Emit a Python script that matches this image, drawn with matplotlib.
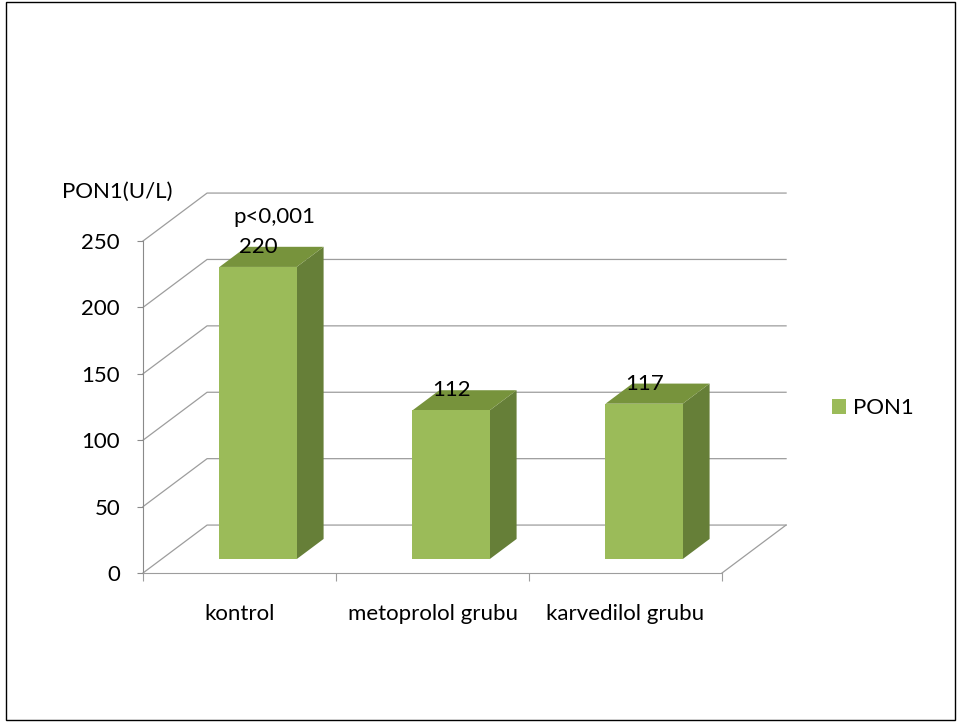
import matplotlib.pyplot as plt
from matplotlib.patches import Polygon, Rectangle, Patch

plt.rcParams['font.family'] = ['Lato', 'DejaVu Sans']

categories = ['kontrol', 'metoprolol grubu', 'karvedilol grubu']
pon1 = [220, 112, 117]
yticks = [0, 50, 100, 150, 200, 250]
series_name = 'PON1'

FRONT = '#9BBB59'
TOP = '#77933C'
SIDE = '#667F38'
GRID = '#9d9d9d'
FS = 16

# depth of the fake 3d box, in data units (x: categories, y: values)
DX, DY = 0.332, 36.1
BAR_W = 0.4
BAR_Z0, BAR_DEPTH = 0.29, 0.42

fig = plt.figure(figsize=(9.61, 7.26), dpi=100)
ax = fig.add_axes([143 / 961, 153 / 726, 579 / 961, 332 / 726])
ax.set_xlim(-0.5, 2.5)
ax.set_ylim(0, 250)

# walls / gridlines
for v in yticks:
    ax.plot([-0.5, -0.5 + DX, 2.5 + DX], [v, v + DY, v + DY],
            color=GRID, lw=0.9, clip_on=False, zorder=1)
ax.plot([2.5, 2.5 + DX], [0, DY], color=GRID, lw=0.9, clip_on=False, zorder=1)

# bars
for i, v in enumerate(pon1):
    x0 = i - BAR_W / 2 + BAR_Z0 * DX
    y0 = BAR_Z0 * DY
    bx, by = BAR_DEPTH * DX, BAR_DEPTH * DY
    ax.add_patch(Polygon([(x0 + BAR_W, y0), (x0 + BAR_W + bx, y0 + by),
                          (x0 + BAR_W + bx, y0 + by + v), (x0 + BAR_W, y0 + v)],
                         closed=True, fc=SIDE, ec='none', clip_on=False, zorder=3))
    ax.add_patch(Polygon([(x0, y0 + v), (x0 + BAR_W, y0 + v),
                          (x0 + BAR_W + bx, y0 + v + by), (x0 + bx, y0 + v + by)],
                         closed=True, fc=TOP, ec='none', clip_on=False, zorder=3))
    ax.add_patch(Rectangle((x0, y0), BAR_W, v, fc=FRONT, ec='none',
                           clip_on=False, zorder=4))
    ax.text(i + BAR_Z0 * DX, v + (BAR_Z0 + BAR_DEPTH) * DY, str(v),
            ha='center', va='center', fontsize=FS, zorder=6)

ax.text(0.18, pon1[0] + 48, 'p<0,001', ha='center', va='center', fontsize=FS)
ax.text(-0.635, 287, 'PON1(U/L)', ha='center', va='center', fontsize=FS)

# axes styling
for s in ['top', 'right']:
    ax.spines[s].set_visible(False)
ax.spines['left'].set_color('#8a8a8a')
ax.spines['bottom'].set_color(GRID)
ax.set_yticks(yticks)
ax.set_yticklabels([str(t) for t in yticks], fontsize=FS)
ax.tick_params(axis='y', direction='out', length=4, color='#8a8a8a', pad=12.5)
ax.set_xticks([-0.5, 0.5, 1.5, 2.5])
ax.set_xticklabels([])
ax.set_xticks(range(len(categories)), minor=True)
ax.set_xticklabels(categories, minor=True, fontsize=FS)
ax.tick_params(axis='x', which='major', direction='out', length=6, color=GRID)
ax.tick_params(axis='x', which='minor', length=0, pad=22)
ax.patch.set_visible(False)

fig.legend(handles=[Patch(fc=FRONT, ec='none', label=series_name)],
           loc='center left', bbox_to_anchor=(812 / 961, 1 - 408 / 726),
           frameon=False, fontsize=FS, handlelength=0.65, handleheight=0.65,
           handletextpad=0.3)

fig.add_artist(Rectangle((6 / 961, 6 / 726), 949 / 961, 718 / 726,
                         transform=fig.transFigure, fill=False, ec='black', lw=1))

fig.savefig('out.png', dpi=100)
